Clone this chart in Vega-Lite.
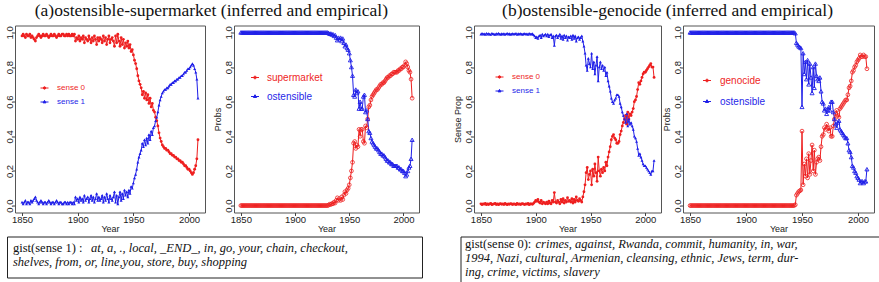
{
  "$schema": "https://vega.github.io/schema/vega-lite/v6.json",
  "background": "white",
  "padding": {"left": 3, "top": 1.5, "right": -12, "bottom": -10.5},
  "spacing": 2,
  "resolve": {"scale": {"color": "independent", "x": "independent", "y": "independent"}, "legend": {"color": "independent"}},
  "config": {
    "view": {"stroke": "#555", "strokeWidth": 1},
    "font": "Liberation Sans",
    "axis": {"labelFont": "Liberation Sans", "titleFont": "Liberation Sans", "labelFontSize": 9.5, "titleFontSize": 9, "titleFontWeight": "normal", "labelColor": "#222", "titleColor": "#222", "tickColor": "#444", "tickSize": 3, "grid": false, "domain": false, "labelPadding": -1, "titlePadding": 0},
    "axisY": {"labelAngle": 270, "labelBaseline": "alphabetic", "labelAlign": "center", "labelPadding": 0, "titlePadding": 1},
    "title": {"font": "Liberation Serif", "fontSize": 17.5, "fontWeight": "normal", "color": "#111", "baseline": "alphabetic"},
    "legend": {"padding": 0}
  },
  "datasets": {
    "a1": [{"t":1850,"r":0.98,"b":0.02},{"t":1851,"r":0.99,"b":0.01},{"t":1852,"r":0.98,"b":0.02},{"t":1853,"r":0.97,"b":0.03},{"t":1854,"r":0.99,"b":0.01},{"t":1855,"r":0.98,"b":0.02},{"t":1856,"r":0.98,"b":0.02},{"t":1857,"r":0.99,"b":0.01},{"t":1858,"r":0.97,"b":0.03},{"t":1859,"r":0.98,"b":0.02},
      {"t":1860,"r":0.97,"b":0.03},{"t":1861,"r":0.96,"b":0.04},{"t":1862,"r":0.95,"b":0.05},{"t":1863,"r":0.97,"b":0.03},{"t":1864,"r":0.98,"b":0.02},{"t":1865,"r":0.99,"b":0.01},{"t":1866,"r":0.98,"b":0.02},{"t":1867,"r":0.97,"b":0.03},{"t":1868,"r":0.98,"b":0.02},{"t":1869,"r":0.99,"b":0.01},
      {"t":1870,"r":0.98,"b":0.02},{"t":1871,"r":0.98,"b":0.02},{"t":1872,"r":0.99,"b":0.01},{"t":1873,"r":0.98,"b":0.02},{"t":1874,"r":0.97,"b":0.03},{"t":1875,"r":0.98,"b":0.02},{"t":1876,"r":0.99,"b":0.01},{"t":1877,"r":0.98,"b":0.02},{"t":1878,"r":0.98,"b":0.02},{"t":1879,"r":0.99,"b":0.01},
      {"t":1880,"r":0.98,"b":0.02},{"t":1881,"r":0.97,"b":0.03},{"t":1882,"r":0.98,"b":0.02},{"t":1883,"r":0.99,"b":0.01},{"t":1884,"r":0.98,"b":0.02},{"t":1885,"r":0.98,"b":0.02},{"t":1886,"r":0.99,"b":0.01},{"t":1887,"r":0.99,"b":0.01},{"t":1888,"r":0.98,"b":0.02},{"t":1889,"r":0.98,"b":0.02},
      {"t":1890,"r":0.99,"b":0.01},{"t":1891,"r":0.98,"b":0.02},{"t":1892,"r":0.99,"b":0.01},{"t":1893,"r":0.98,"b":0.02},{"t":1894,"r":0.98,"b":0.02},{"t":1895,"r":0.99,"b":0.01},{"t":1896,"r":0.98,"b":0.02},{"t":1897,"r":0.99,"b":0.01},{"t":1898,"r":0.95,"b":0.05},{"t":1899,"r":0.97,"b":0.03},
      {"t":1900,"r":0.96,"b":0.04},{"t":1901,"r":0.98,"b":0.02},{"t":1902,"r":0.95,"b":0.05},{"t":1903,"r":0.97,"b":0.03},{"t":1904,"r":0.96,"b":0.04},{"t":1905,"r":0.98,"b":0.02},{"t":1906,"r":0.94,"b":0.06},{"t":1907,"r":0.97,"b":0.03},{"t":1908,"r":0.96,"b":0.04},{"t":1909,"r":0.95,"b":0.05},
      {"t":1910,"r":0.98,"b":0.02},{"t":1911,"r":0.96,"b":0.04},{"t":1912,"r":0.94,"b":0.06},{"t":1913,"r":0.97,"b":0.03},{"t":1914,"r":0.95,"b":0.05},{"t":1915,"r":0.98,"b":0.02},{"t":1916,"r":0.96,"b":0.04},{"t":1917,"r":0.93,"b":0.07},{"t":1918,"r":0.97,"b":0.03},{"t":1919,"r":0.95,"b":0.05},
      {"t":1920,"r":0.97,"b":0.03},{"t":1921,"r":0.96,"b":0.04},{"t":1922,"r":0.94,"b":0.06},{"t":1923,"r":0.98,"b":0.02},{"t":1924,"r":0.95,"b":0.05},{"t":1925,"r":0.97,"b":0.03},{"t":1926,"r":0.93,"b":0.07},{"t":1927,"r":0.96,"b":0.04},{"t":1928,"r":0.98,"b":0.02},{"t":1929,"r":0.94,"b":0.06},
      {"t":1930,"r":0.96,"b":0.04},{"t":1931,"r":0.97,"b":0.03},{"t":1932,"r":0.95,"b":0.05},{"t":1933,"r":0.92,"b":0.08},{"t":1934,"r":0.98,"b":0.02},{"t":1935,"r":0.94,"b":0.06},{"t":1936,"r":0.99,"b":0.01},{"t":1937,"r":0.95,"b":0.05},{"t":1938,"r":0.92,"b":0.08},{"t":1939,"r":0.97,"b":0.03},
      {"t":1940,"r":0.93,"b":0.07},{"t":1941,"r":0.96,"b":0.04},{"t":1942,"r":0.91,"b":0.09},{"t":1943,"r":0.94,"b":0.06},{"t":1944,"r":0.92,"b":0.08},{"t":1945,"r":0.95,"b":0.05},{"t":1946,"r":0.91,"b":0.09},{"t":1947,"r":0.93,"b":0.07},{"t":1948,"r":0.89,"b":0.11},{"t":1949,"r":0.9,"b":0.1},
      {"t":1950,"r":0.87,"b":0.13},{"t":1951,"r":0.84,"b":0.16},{"t":1952,"r":0.82,"b":0.18},{"t":1953,"r":0.79,"b":0.21},{"t":1954,"r":0.75,"b":0.25},{"t":1955,"r":0.72,"b":0.28},{"t":1956,"r":0.7,"b":0.3},{"t":1957,"r":0.68,"b":0.32},{"t":1958,"r":0.64,"b":0.36},{"t":1959,"r":0.66,"b":0.34},
      {"t":1960,"r":0.62,"b":0.38},{"t":1961,"r":0.65,"b":0.35},{"t":1962,"r":0.61,"b":0.39},{"t":1963,"r":0.64,"b":0.36},{"t":1964,"r":0.59,"b":0.41},{"t":1965,"r":0.62,"b":0.38},{"t":1966,"r":0.57,"b":0.43},{"t":1967,"r":0.59,"b":0.41},{"t":1968,"r":0.55,"b":0.45},{"t":1969,"r":0.54,"b":0.46},
      {"t":1970,"r":0.51,"b":0.49},{"t":1971,"r":0.49,"b":0.51},{"t":1972,"r":0.46,"b":0.54},{"t":1973,"r":0.42,"b":0.58},{"t":1974,"r":0.39,"b":0.61},{"t":1975,"r":0.37,"b":0.63},{"t":1976,"r":0.35,"b":0.65},{"t":1977,"r":0.34,"b":0.66},{"t":1978,"r":0.33,"b":0.67},{"t":1979,"r":0.33,"b":0.67},
      {"t":1980,"r":0.32,"b":0.68},{"t":1981,"r":0.32,"b":0.68},{"t":1982,"r":0.31,"b":0.69},{"t":1983,"r":0.3,"b":0.7},{"t":1984,"r":0.3,"b":0.7},{"t":1985,"r":0.29,"b":0.71},{"t":1986,"r":0.29,"b":0.71},{"t":1987,"r":0.28,"b":0.72},{"t":1988,"r":0.28,"b":0.72},{"t":1989,"r":0.27,"b":0.73},
      {"t":1990,"r":0.27,"b":0.73},{"t":1991,"r":0.26,"b":0.74},{"t":1992,"r":0.26,"b":0.74},{"t":1993,"r":0.25,"b":0.75},{"t":1994,"r":0.25,"b":0.75},{"t":1995,"r":0.24,"b":0.76},{"t":1996,"r":0.23,"b":0.77},{"t":1997,"r":0.23,"b":0.77},{"t":1998,"r":0.22,"b":0.78},{"t":1999,"r":0.21,"b":0.79},
      {"t":2000,"r":0.21,"b":0.79},{"t":2001,"r":0.2,"b":0.8},{"t":2002,"r":0.19,"b":0.81},{"t":2003,"r":0.18,"b":0.82},{"t":2004,"r":0.19,"b":0.81},{"t":2005,"r":0.21,"b":0.79},{"t":2006,"r":0.23,"b":0.77},{"t":2007,"r":0.27,"b":0.73},{"t":2008,"r":0.38,"b":0.62}],
    "a2": [{"t":1850,"r":0,"b":1},{"t":1851,"r":0,"b":1},{"t":1852,"r":0,"b":1},{"t":1853,"r":0,"b":1},{"t":1854,"r":0,"b":1},{"t":1855,"r":0,"b":1},{"t":1856,"r":0,"b":1},{"t":1857,"r":0,"b":1},{"t":1858,"r":0,"b":1},{"t":1859,"r":0,"b":1},
      {"t":1860,"r":0,"b":1},{"t":1861,"r":0,"b":1},{"t":1862,"r":0,"b":1},{"t":1863,"r":0,"b":1},{"t":1864,"r":0,"b":1},{"t":1865,"r":0,"b":1},{"t":1866,"r":0,"b":1},{"t":1867,"r":0,"b":1},{"t":1868,"r":0,"b":1},{"t":1869,"r":0,"b":1},
      {"t":1870,"r":0,"b":1},{"t":1871,"r":0,"b":1},{"t":1872,"r":0,"b":1},{"t":1873,"r":0,"b":1},{"t":1874,"r":0,"b":1},{"t":1875,"r":0,"b":1},{"t":1876,"r":0,"b":1},{"t":1877,"r":0,"b":1},{"t":1878,"r":0,"b":1},{"t":1879,"r":0,"b":1},
      {"t":1880,"r":0,"b":1},{"t":1881,"r":0,"b":1},{"t":1882,"r":0,"b":1},{"t":1883,"r":0,"b":1},{"t":1884,"r":0,"b":1},{"t":1885,"r":0,"b":1},{"t":1886,"r":0,"b":1},{"t":1887,"r":0,"b":1},{"t":1888,"r":0,"b":1},{"t":1889,"r":0,"b":1},
      {"t":1890,"r":0,"b":1},{"t":1891,"r":0,"b":1},{"t":1892,"r":0,"b":1},{"t":1893,"r":0,"b":1},{"t":1894,"r":0,"b":1},{"t":1895,"r":0,"b":1},{"t":1896,"r":0,"b":1},{"t":1897,"r":0,"b":1},{"t":1898,"r":0,"b":1},{"t":1899,"r":0,"b":1},
      {"t":1900,"r":0,"b":1},{"t":1901,"r":0,"b":1},{"t":1902,"r":0,"b":1},{"t":1903,"r":0,"b":1},{"t":1904,"r":0,"b":1},{"t":1905,"r":0,"b":1},{"t":1906,"r":0,"b":1},{"t":1907,"r":0,"b":1},{"t":1908,"r":0,"b":1},{"t":1909,"r":0,"b":1},
      {"t":1910,"r":0,"b":1},{"t":1911,"r":0,"b":1},{"t":1912,"r":0,"b":1},{"t":1913,"r":0,"b":1},{"t":1914,"r":0,"b":1},{"t":1915,"r":0,"b":1},{"t":1916,"r":0,"b":1},{"t":1917,"r":0,"b":1},{"t":1918,"r":0,"b":1},{"t":1919,"r":0,"b":1},
      {"t":1920,"r":0,"b":1},{"t":1921,"r":0,"b":1},{"t":1922,"r":0,"b":1},{"t":1923,"r":0,"b":1},{"t":1924,"r":0,"b":1},{"t":1925,"r":0,"b":1},{"t":1926,"r":0,"b":1},{"t":1927,"r":0,"b":1},{"t":1928,"r":0,"b":1},{"t":1929,"r":0,"b":1},
      {"t":1930,"r":0,"b":1},{"t":1931,"r":0.003,"b":0.997},{"t":1932,"r":0.008,"b":0.992},{"t":1933,"r":0.006,"b":0.994},{"t":1934,"r":0.012,"b":0.988},{"t":1935,"r":0.01,"b":0.99},{"t":1936,"r":0.02,"b":0.98},{"t":1937,"r":0.015,"b":0.985},{"t":1938,"r":0.03,"b":0.97},{"t":1939,"r":0.045,"b":0.955},
      {"t":1940,"r":0.03,"b":0.97},{"t":1941,"r":0.04,"b":0.96},{"t":1942,"r":0.03,"b":0.97},{"t":1943,"r":0.05,"b":0.95},{"t":1944,"r":0.035,"b":0.965},{"t":1945,"r":0.06,"b":0.94},{"t":1946,"r":0.08,"b":0.92},{"t":1947,"r":0.07,"b":0.93},{"t":1948,"r":0.09,"b":0.91},{"t":1949,"r":0.1,"b":0.9},
      {"t":1950,"r":0.12,"b":0.88},{"t":1951,"r":0.16,"b":0.84},{"t":1952,"r":0.2,"b":0.8},{"t":1953,"r":0.25,"b":0.75},{"t":1954,"r":0.36,"b":0.64},{"t":1955,"r":0.37,"b":0.63},{"t":1956,"r":0.33,"b":0.67},{"t":1957,"r":0.35,"b":0.65},{"t":1958,"r":0.34,"b":0.66},{"t":1959,"r":0.44,"b":0.56},
      {"t":1960,"r":0.4,"b":0.6},{"t":1961,"r":0.44,"b":0.56},{"t":1962,"r":0.44,"b":0.56},{"t":1963,"r":0.37,"b":0.63},{"t":1964,"r":0.36,"b":0.64},{"t":1965,"r":0.46,"b":0.54},{"t":1966,"r":0.45,"b":0.55},{"t":1967,"r":0.5,"b":0.5},{"t":1968,"r":0.57,"b":0.43},{"t":1969,"r":0.58,"b":0.42},
      {"t":1970,"r":0.61,"b":0.39},{"t":1971,"r":0.63,"b":0.37},{"t":1972,"r":0.64,"b":0.36},{"t":1973,"r":0.65,"b":0.35},{"t":1974,"r":0.66,"b":0.34},{"t":1975,"r":0.67,"b":0.33},{"t":1976,"r":0.67,"b":0.33},{"t":1977,"r":0.68,"b":0.32},{"t":1978,"r":0.69,"b":0.31},{"t":1979,"r":0.7,"b":0.3},
      {"t":1980,"r":0.7,"b":0.3},{"t":1981,"r":0.71,"b":0.29},{"t":1982,"r":0.71,"b":0.29},{"t":1983,"r":0.72,"b":0.28},{"t":1984,"r":0.73,"b":0.27},{"t":1985,"r":0.74,"b":0.26},{"t":1986,"r":0.74,"b":0.26},{"t":1987,"r":0.75,"b":0.25},{"t":1988,"r":0.75,"b":0.25},{"t":1989,"r":0.76,"b":0.24},
      {"t":1990,"r":0.76,"b":0.24},{"t":1991,"r":0.77,"b":0.23},{"t":1992,"r":0.77,"b":0.23},{"t":1993,"r":0.77,"b":0.23},{"t":1994,"r":0.77,"b":0.23},{"t":1995,"r":0.78,"b":0.22},{"t":1996,"r":0.78,"b":0.22},{"t":1997,"r":0.79,"b":0.21},{"t":1998,"r":0.79,"b":0.21},{"t":1999,"r":0.8,"b":0.2},
      {"t":2000,"r":0.8,"b":0.2},{"t":2001,"r":0.81,"b":0.19},{"t":2002,"r":0.83,"b":0.17},{"t":2003,"r":0.82,"b":0.18},{"t":2004,"r":0.8,"b":0.2},{"t":2005,"r":0.78,"b":0.22},{"t":2006,"r":0.77,"b":0.23},{"t":2007,"r":0.73,"b":0.27},{"t":2008,"r":0.62,"b":0.38}],
    "b1": [{"t":1850,"r":0.01,"b":0.99},{"t":1851,"r":0.005,"b":0.995},{"t":1852,"r":0.01,"b":0.99},{"t":1853,"r":0.008,"b":0.992},{"t":1854,"r":0.012,"b":0.988},{"t":1855,"r":0.005,"b":0.995},{"t":1856,"r":0.01,"b":0.99},{"t":1857,"r":0.006,"b":0.994},{"t":1858,"r":0.01,"b":0.99},{"t":1859,"r":0.012,"b":0.988},
      {"t":1860,"r":0.005,"b":0.995},{"t":1861,"r":0.008,"b":0.992},{"t":1862,"r":0.01,"b":0.99},{"t":1863,"r":0.012,"b":0.988},{"t":1864,"r":0.006,"b":0.994},{"t":1865,"r":0.01,"b":0.99},{"t":1866,"r":0.005,"b":0.995},{"t":1867,"r":0.009,"b":0.991},{"t":1868,"r":0.011,"b":0.989},{"t":1869,"r":0.007,"b":0.993},
      {"t":1870,"r":0.01,"b":0.99},{"t":1871,"r":0.006,"b":0.994},{"t":1872,"r":0.012,"b":0.988},{"t":1873,"r":0.008,"b":0.992},{"t":1874,"r":0.005,"b":0.995},{"t":1875,"r":0.01,"b":0.99},{"t":1876,"r":0.007,"b":0.993},{"t":1877,"r":0.011,"b":0.989},{"t":1878,"r":0.009,"b":0.991},{"t":1879,"r":0.006,"b":0.994},
      {"t":1880,"r":0.01,"b":0.99},{"t":1881,"r":0.008,"b":0.992},{"t":1882,"r":0.005,"b":0.995},{"t":1883,"r":0.012,"b":0.988},{"t":1884,"r":0.007,"b":0.993},{"t":1885,"r":0.01,"b":0.99},{"t":1886,"r":0.006,"b":0.994},{"t":1887,"r":0.009,"b":0.991},{"t":1888,"r":0.011,"b":0.989},{"t":1889,"r":0.008,"b":0.992},
      {"t":1890,"r":0.006,"b":0.994},{"t":1891,"r":0.01,"b":0.99},{"t":1892,"r":0.008,"b":0.992},{"t":1893,"r":0.012,"b":0.988},{"t":1894,"r":0.005,"b":0.995},{"t":1895,"r":0.009,"b":0.991},{"t":1896,"r":0.01,"b":0.99},{"t":1897,"r":0.007,"b":0.993},{"t":1898,"r":0.013,"b":0.987},{"t":1899,"r":0.02,"b":0.98},
      {"t":1900,"r":0.03,"b":0.97},{"t":1901,"r":0.025,"b":0.975},{"t":1902,"r":0.035,"b":0.965},{"t":1903,"r":0.02,"b":0.98},{"t":1904,"r":0.015,"b":0.985},{"t":1905,"r":0.03,"b":0.97},{"t":1906,"r":0.01,"b":0.99},{"t":1907,"r":0.02,"b":0.98},{"t":1908,"r":0.015,"b":0.985},{"t":1909,"r":0.01,"b":0.99},
      {"t":1910,"r":0.02,"b":0.98},{"t":1911,"r":0.01,"b":0.99},{"t":1912,"r":0.025,"b":0.975},{"t":1913,"r":0.015,"b":0.985},{"t":1914,"r":0.01,"b":0.99},{"t":1915,"r":0.03,"b":0.97},{"t":1916,"r":0.02,"b":0.98},{"t":1917,"r":0.075,"b":0.925},{"t":1918,"r":0.02,"b":0.98},{"t":1919,"r":0.015,"b":0.985},
      {"t":1920,"r":0.03,"b":0.97},{"t":1921,"r":0.02,"b":0.98},{"t":1922,"r":0.01,"b":0.99},{"t":1923,"r":0.035,"b":0.965},{"t":1924,"r":0.02,"b":0.98},{"t":1925,"r":0.04,"b":0.96},{"t":1926,"r":0.015,"b":0.985},{"t":1927,"r":0.03,"b":0.97},{"t":1928,"r":0.02,"b":0.98},{"t":1929,"r":0.045,"b":0.955},
      {"t":1930,"r":0.025,"b":0.975},{"t":1931,"r":0.03,"b":0.97},{"t":1932,"r":0.02,"b":0.98},{"t":1933,"r":0.04,"b":0.96},{"t":1934,"r":0.015,"b":0.985},{"t":1935,"r":0.035,"b":0.965},{"t":1936,"r":0.02,"b":0.98},{"t":1937,"r":0.05,"b":0.95},{"t":1938,"r":0.03,"b":0.97},{"t":1939,"r":0.025,"b":0.975},
      {"t":1940,"r":0.04,"b":0.96},{"t":1941,"r":0.03,"b":0.97},{"t":1942,"r":0.02,"b":0.98},{"t":1943,"r":0.05,"b":0.95},{"t":1944,"r":0.08,"b":0.92},{"t":1945,"r":0.12,"b":0.88},{"t":1946,"r":0.19,"b":0.81},{"t":1947,"r":0.22,"b":0.78},{"t":1948,"r":0.15,"b":0.85},{"t":1949,"r":0.18,"b":0.82},
      {"t":1950,"r":0.2,"b":0.8},{"t":1951,"r":0.12,"b":0.88},{"t":1952,"r":0.21,"b":0.79},{"t":1953,"r":0.17,"b":0.83},{"t":1954,"r":0.24,"b":0.76},{"t":1955,"r":0.19,"b":0.81},{"t":1956,"r":0.14,"b":0.86},{"t":1957,"r":0.28,"b":0.72},{"t":1958,"r":0.2,"b":0.8},{"t":1959,"r":0.17,"b":0.83},
      {"t":1960,"r":0.21,"b":0.79},{"t":1961,"r":0.19,"b":0.81},{"t":1962,"r":0.22,"b":0.78},{"t":1963,"r":0.2,"b":0.8},{"t":1964,"r":0.25,"b":0.75},{"t":1965,"r":0.23,"b":0.77},{"t":1966,"r":0.28,"b":0.72},{"t":1967,"r":0.31,"b":0.69},{"t":1968,"r":0.34,"b":0.66},{"t":1969,"r":0.38,"b":0.62},
      {"t":1970,"r":0.4,"b":0.6},{"t":1971,"r":0.41,"b":0.59},{"t":1972,"r":0.39,"b":0.61},{"t":1973,"r":0.38,"b":0.62},{"t":1974,"r":0.36,"b":0.64},{"t":1975,"r":0.36,"b":0.64},{"t":1976,"r":0.37,"b":0.63},{"t":1977,"r":0.41,"b":0.59},{"t":1978,"r":0.43,"b":0.57},{"t":1979,"r":0.46,"b":0.54},
      {"t":1980,"r":0.48,"b":0.52},{"t":1981,"r":0.5,"b":0.5},{"t":1982,"r":0.52,"b":0.48},{"t":1983,"r":0.47,"b":0.53},{"t":1984,"r":0.54,"b":0.46},{"t":1985,"r":0.5,"b":0.5},{"t":1986,"r":0.53,"b":0.47},{"t":1987,"r":0.52,"b":0.48},{"t":1988,"r":0.54,"b":0.46},{"t":1989,"r":0.56,"b":0.44},
      {"t":1990,"r":0.6,"b":0.4},{"t":1991,"r":0.61,"b":0.39},{"t":1992,"r":0.63,"b":0.37},{"t":1993,"r":0.67,"b":0.33},{"t":1994,"r":0.71,"b":0.29},{"t":1995,"r":0.7,"b":0.3},{"t":1996,"r":0.72,"b":0.28},{"t":1997,"r":0.74,"b":0.26},{"t":1998,"r":0.76,"b":0.24},{"t":1999,"r":0.77,"b":0.23},
      {"t":2000,"r":0.77,"b":0.23},{"t":2001,"r":0.78,"b":0.22},{"t":2002,"r":0.79,"b":0.21},{"t":2003,"r":0.8,"b":0.2},{"t":2004,"r":0.81,"b":0.19},{"t":2005,"r":0.82,"b":0.18},{"t":2006,"r":0.8,"b":0.2},{"t":2007,"r":0.8,"b":0.2},{"t":2008,"r":0.74,"b":0.26}],
    "b2": [{"t":1850,"r":0,"b":1},{"t":1851,"r":0,"b":1},{"t":1852,"r":0,"b":1},{"t":1853,"r":0,"b":1},{"t":1854,"r":0,"b":1},{"t":1855,"r":0,"b":1},{"t":1856,"r":0,"b":1},{"t":1857,"r":0,"b":1},{"t":1858,"r":0,"b":1},{"t":1859,"r":0,"b":1},
      {"t":1860,"r":0,"b":1},{"t":1861,"r":0,"b":1},{"t":1862,"r":0,"b":1},{"t":1863,"r":0,"b":1},{"t":1864,"r":0,"b":1},{"t":1865,"r":0,"b":1},{"t":1866,"r":0,"b":1},{"t":1867,"r":0,"b":1},{"t":1868,"r":0,"b":1},{"t":1869,"r":0,"b":1},
      {"t":1870,"r":0,"b":1},{"t":1871,"r":0,"b":1},{"t":1872,"r":0,"b":1},{"t":1873,"r":0,"b":1},{"t":1874,"r":0,"b":1},{"t":1875,"r":0,"b":1},{"t":1876,"r":0,"b":1},{"t":1877,"r":0,"b":1},{"t":1878,"r":0,"b":1},{"t":1879,"r":0,"b":1},
      {"t":1880,"r":0,"b":1},{"t":1881,"r":0,"b":1},{"t":1882,"r":0,"b":1},{"t":1883,"r":0,"b":1},{"t":1884,"r":0,"b":1},{"t":1885,"r":0,"b":1},{"t":1886,"r":0,"b":1},{"t":1887,"r":0,"b":1},{"t":1888,"r":0,"b":1},{"t":1889,"r":0,"b":1},
      {"t":1890,"r":0,"b":1},{"t":1891,"r":0,"b":1},{"t":1892,"r":0,"b":1},{"t":1893,"r":0,"b":1},{"t":1894,"r":0,"b":1},{"t":1895,"r":0,"b":1},{"t":1896,"r":0,"b":1},{"t":1897,"r":0,"b":1},{"t":1898,"r":0,"b":1},{"t":1899,"r":0,"b":1},
      {"t":1900,"r":0,"b":1},{"t":1901,"r":0,"b":1},{"t":1902,"r":0,"b":1},{"t":1903,"r":0,"b":1},{"t":1904,"r":0,"b":1},{"t":1905,"r":0,"b":1},{"t":1906,"r":0,"b":1},{"t":1907,"r":0,"b":1},{"t":1908,"r":0,"b":1},{"t":1909,"r":0,"b":1},
      {"t":1910,"r":0,"b":1},{"t":1911,"r":0,"b":1},{"t":1912,"r":0,"b":1},{"t":1913,"r":0,"b":1},{"t":1914,"r":0,"b":1},{"t":1915,"r":0,"b":1},{"t":1916,"r":0,"b":1},{"t":1917,"r":0,"b":1},{"t":1918,"r":0,"b":1},{"t":1919,"r":0,"b":1},
      {"t":1920,"r":0,"b":1},{"t":1921,"r":0,"b":1},{"t":1922,"r":0,"b":1},{"t":1923,"r":0,"b":1},{"t":1924,"r":0,"b":1},{"t":1925,"r":0,"b":1},{"t":1926,"r":0,"b":1},{"t":1927,"r":0,"b":1},{"t":1928,"r":0,"b":1},{"t":1929,"r":0,"b":1},
      {"t":1930,"r":0,"b":1},{"t":1931,"r":0,"b":1},{"t":1932,"r":0,"b":1},{"t":1933,"r":0,"b":1},{"t":1934,"r":0,"b":1},{"t":1935,"r":0,"b":1},{"t":1936,"r":0,"b":1},{"t":1937,"r":0,"b":1},{"t":1938,"r":0,"b":1},{"t":1939,"r":0,"b":1},
      {"t":1940,"r":0,"b":1},{"t":1941,"r":0,"b":1},{"t":1942,"r":0,"b":1},{"t":1943,"r":0,"b":1},{"t":1944,"r":0.005,"b":0.995},{"t":1945,"r":0.06,"b":0.94},{"t":1946,"r":0.07,"b":0.93},{"t":1947,"r":0.08,"b":0.92},{"t":1948,"r":0.085,"b":0.915},{"t":1949,"r":0.09,"b":0.91},
      {"t":1950,"r":0.43,"b":0.57},{"t":1951,"r":0.12,"b":0.88},{"t":1952,"r":0.24,"b":0.76},{"t":1953,"r":0.17,"b":0.83},{"t":1954,"r":0.27,"b":0.73},{"t":1955,"r":0.16,"b":0.84},{"t":1956,"r":0.3,"b":0.7},{"t":1957,"r":0.18,"b":0.82},{"t":1958,"r":0.26,"b":0.74},{"t":1959,"r":0.35,"b":0.65},
      {"t":1960,"r":0.2,"b":0.8},{"t":1961,"r":0.32,"b":0.68},{"t":1962,"r":0.18,"b":0.82},{"t":1963,"r":0.25,"b":0.75},{"t":1964,"r":0.27,"b":0.73},{"t":1965,"r":0.28,"b":0.72},{"t":1966,"r":0.26,"b":0.74},{"t":1967,"r":0.34,"b":0.66},{"t":1968,"r":0.4,"b":0.6},{"t":1969,"r":0.41,"b":0.59},
      {"t":1970,"r":0.45,"b":0.55},{"t":1971,"r":0.44,"b":0.56},{"t":1972,"r":0.47,"b":0.53},{"t":1973,"r":0.45,"b":0.55},{"t":1974,"r":0.43,"b":0.57},{"t":1975,"r":0.45,"b":0.55},{"t":1976,"r":0.4,"b":0.6},{"t":1977,"r":0.4,"b":0.6},{"t":1978,"r":0.46,"b":0.54},{"t":1979,"r":0.5,"b":0.5},
      {"t":1980,"r":0.53,"b":0.47},{"t":1981,"r":0.55,"b":0.45},{"t":1982,"r":0.52,"b":0.48},{"t":1983,"r":0.51,"b":0.49},{"t":1984,"r":0.56,"b":0.44},{"t":1985,"r":0.57,"b":0.43},{"t":1986,"r":0.58,"b":0.42},{"t":1987,"r":0.59,"b":0.41},{"t":1988,"r":0.6,"b":0.4},{"t":1989,"r":0.61,"b":0.39},
      {"t":1990,"r":0.61,"b":0.39},{"t":1991,"r":0.64,"b":0.36},{"t":1992,"r":0.68,"b":0.32},{"t":1993,"r":0.69,"b":0.31},{"t":1994,"r":0.72,"b":0.28},{"t":1995,"r":0.77,"b":0.23},{"t":1996,"r":0.78,"b":0.22},{"t":1997,"r":0.8,"b":0.2},{"t":1998,"r":0.81,"b":0.19},{"t":1999,"r":0.83,"b":0.17},
      {"t":2000,"r":0.84,"b":0.16},{"t":2001,"r":0.85,"b":0.15},{"t":2002,"r":0.87,"b":0.13},{"t":2003,"r":0.86,"b":0.14},{"t":2004,"r":0.86,"b":0.14},{"t":2005,"r":0.87,"b":0.13},{"t":2006,"r":0.86,"b":0.14},{"t":2007,"r":0.86,"b":0.14},{"t":2008,"r":0.79,"b":0.21}],
    "ga": [{"ln":1,"part":"head","txt":"gist(sense 1) :"},{"ln":1,"part":"lead","txt":"at, a, ., local, _END_, in, go, your, chain, checkout,"},{"ln":2,"part":"more","txt":"shelves, from, or, line,you, store, buy, shopping"}],
    "gb": [{"ln":1,"part":"head","txt":"gist(sense 0):"},{"ln":1,"part":"lead","txt":"crimes, against, Rwanda, commit, humanity, in, war,"},{"ln":2,"part":"more","txt":"1994, Nazi, cultural, Armenian, cleansing, ethnic, Jews, term, dur-"},{"ln":3,"part":"more","txt":"ing, crime, victims, slavery"}]
  },
  "vconcat": [
    {
      "spacing": -5,
      "resolve": {"scale": {"color": "independent", "x": "independent", "y": "independent"}, "legend": {"color": "independent"}},
      "hconcat": [
        {"width": 1, "height": 1, "view": {"stroke": null}, "data": {"values": []}, "mark": "point"},
        {
          "spacing": 32,
          "resolve": {"scale": {"color": "independent", "x": "independent", "y": "independent"}, "legend": {"color": "independent"}},
          "hconcat": [
            {
              "bounds": "flush",
              "spacing": 29,
              "resolve": {"scale": {"color": "independent", "x": "independent", "y": "independent"}, "legend": {"color": "independent"}},
              "hconcat": [
                {
                  "width": 190, "height": 187,
                  "data": {"name": "a1"},
                  "transform": [{"fold": ["r", "b"], "as": ["k", "v"]}],
                  "encoding": {
                    "x": {"field": "t", "type": "quantitative", "scale": {"domain": [1843.68, 2014.32], "nice": false, "zero": false}, "axis": {"values": [1850, 1900, 1950, 2000], "format": "d", "title": "Year"}},
                    "y": {"field": "v", "type": "quantitative", "scale": {"domain": [-0.04, 1.04], "nice": false, "zero": false}, "axis": {"values": [0, 0.2, 0.4, 0.6, 0.8, 1], "format": ".1f", "title": null}},
                    "color": {"field": "k", "type": "nominal", "scale": {"domain": ["r", "b"], "range": ["#ee1f1f", "#1f1fe8"]},
                      "legend": {"title": null, "orient": "none", "legendX": 25, "legendY": 58, "labelFontSize": 8, "labelOffset": 8, "rowPadding": 5, "symbolSize": 64, "symbolStrokeWidth": 1,
                        "labelExpr": "datum.value === 'r' ? 'sense 0' : 'sense 1'",
                        "encode": {
                          "symbols": {"update": {
                            "shape": {"signal": "datum.value === 'r' ? 'M-1,0H1M0.3,0A0.3,0.3,0,1,1,-0.3,0A0.3,0.3,0,1,1,0.3,0Z' : 'M-1,0H1M0,-0.4L0.36,0.22L-0.36,0.22Z'"},
                            "fill": {"signal": "datum.value === 'r' ? '#ee1f1f' : '#1f1fe8'"},
                            "stroke": {"signal": "datum.value === 'r' ? '#ee1f1f' : '#1f1fe8'"},
                            "opacity": {"value": 1}}},
                          "labels": {"update": {"fill": {"signal": "datum.value === 'r' ? '#ee1f1f' : '#1f1fe8'"}}}
                        }}}
                  },
                  "layer": [
                    {"mark": {"type": "line", "strokeWidth": 1}},
                    {"transform": [{"filter": "datum.k === 'r'"}], "mark": {"type": "point", "shape": "circle", "filled": true, "opacity": 1, "size": 8}},
                    {"transform": [{"filter": "datum.k === 'b'"}], "mark": {"type": "point", "shape": "triangle-up", "filled": true, "opacity": 1, "size": 9}}
                  ]
                },
                {
                  "width": 185, "height": 187,
                  "title": {"text": "(a)ostensible-supermarket (inferred and empirical)", "anchor": "end", "frame": "group", "dx": -31, "offset": 6},
                  "data": {"name": "a2"},
                  "transform": [{"fold": ["r", "b"], "as": ["k", "v"]}],
                  "encoding": {
                    "x": {"field": "t", "type": "quantitative", "scale": {"domain": [1843.68, 2014.32], "nice": false, "zero": false}, "axis": {"values": [1850, 1900, 1950, 2000], "format": "d", "title": "Year"}},
                    "y": {"field": "v", "type": "quantitative", "scale": {"domain": [-0.04, 1.04], "nice": false, "zero": false}, "axis": {"values": [0, 0.2, 0.4, 0.6, 0.8, 1], "format": ".1f", "title": "Probs"}},
                    "color": {"field": "k", "type": "nominal", "scale": {"domain": ["r", "b"], "range": ["#ee1f1f", "#1f1fe8"]},
                      "legend": {"title": null, "orient": "none", "legendX": 16, "legendY": 47, "labelFontSize": 10, "labelOffset": 7, "rowPadding": 9, "symbolSize": 64, "symbolStrokeWidth": 1,
                        "labelExpr": "datum.value === 'r' ? 'supermarket' : 'ostensible'",
                        "encode": {
                          "symbols": {"update": {
                            "shape": {"signal": "datum.value === 'r' ? 'M-1,0H1M0.35,0A0.35,0.35,0,1,1,-0.35,0A0.35,0.35,0,1,1,0.35,0Z' : 'M-1,0H1M0,-0.45L0.4,0.25L-0.4,0.25Z'"},
                            "fill": {"signal": "datum.value === 'r' ? '#ffffff' : '#1f1fe8'"},
                            "stroke": {"signal": "datum.value === 'r' ? '#ee1f1f' : '#1f1fe8'"},
                            "opacity": {"value": 1}}},
                          "labels": {"update": {"fill": {"signal": "datum.value === 'r' ? '#ee1f1f' : '#1f1fe8'"}}}
                        }}}
                  },
                  "layer": [
                    {"mark": {"type": "line", "strokeWidth": 1}},
                    {"transform": [{"filter": "datum.k === 'r'"}], "mark": {"type": "point", "shape": "circle", "filled": false, "opacity": 1, "size": 14, "strokeWidth": 0.8}},
                    {"transform": [{"filter": "datum.k === 'b'"}], "mark": {"type": "point", "shape": "triangle-up", "filled": false, "opacity": 1, "size": 16, "strokeWidth": 0.9}}
                  ]
                }
              ]
            },
            {
              "bounds": "flush",
              "spacing": 22,
              "resolve": {"scale": {"color": "independent", "x": "independent", "y": "independent"}, "legend": {"color": "independent"}},
              "hconcat": [
                {
                  "width": 187, "height": 187,
                  "data": {"name": "b1"},
                  "transform": [{"fold": ["r", "b"], "as": ["k", "v"]}],
                  "encoding": {
                    "x": {"field": "t", "type": "quantitative", "scale": {"domain": [1843.68, 2014.32], "nice": false, "zero": false}, "axis": {"values": [1850, 1900, 1950, 2000], "format": "d", "title": "Year"}},
                    "y": {"field": "v", "type": "quantitative", "scale": {"domain": [-0.04, 1.04], "nice": false, "zero": false}, "axis": {"values": [0, 0.2, 0.4, 0.6, 0.8, 1], "format": ".1f", "title": "Sense Prop"}},
                    "color": {"field": "k", "type": "nominal", "scale": {"domain": ["r", "b"], "range": ["#ee1f1f", "#1f1fe8"]},
                      "legend": {"title": null, "orient": "none", "legendX": 21, "legendY": 47, "labelFontSize": 8, "labelOffset": 8, "rowPadding": 5, "symbolSize": 64, "symbolStrokeWidth": 1,
                        "labelExpr": "datum.value === 'r' ? 'sense 0' : 'sense 1'",
                        "encode": {
                          "symbols": {"update": {
                            "shape": {"signal": "datum.value === 'r' ? 'M-1,0H1M0.3,0A0.3,0.3,0,1,1,-0.3,0A0.3,0.3,0,1,1,0.3,0Z' : 'M-1,0H1M0,-0.4L0.36,0.22L-0.36,0.22Z'"},
                            "fill": {"signal": "datum.value === 'r' ? '#ee1f1f' : '#1f1fe8'"},
                            "stroke": {"signal": "datum.value === 'r' ? '#ee1f1f' : '#1f1fe8'"},
                            "opacity": {"value": 1}}},
                          "labels": {"update": {"fill": {"signal": "datum.value === 'r' ? '#ee1f1f' : '#1f1fe8'"}}}
                        }}}
                  },
                  "layer": [
                    {"mark": {"type": "line", "strokeWidth": 1}},
                    {"transform": [{"filter": "datum.k === 'r'"}], "mark": {"type": "point", "shape": "circle", "filled": true, "opacity": 1, "size": 8}},
                    {"transform": [{"filter": "datum.k === 'b'"}], "mark": {"type": "point", "shape": "triangle-up", "filled": true, "opacity": 1, "size": 9}}
                  ]
                },
                {
                  "width": 191, "height": 187,
                  "title": {"text": "(b)ostensible-genocide (inferred and empirical)", "anchor": "end", "frame": "group", "dx": -41, "offset": 6},
                  "data": {"name": "b2"},
                  "transform": [{"fold": ["r", "b"], "as": ["k", "v"]}],
                  "encoding": {
                    "x": {"field": "t", "type": "quantitative", "scale": {"domain": [1843.68, 2014.32], "nice": false, "zero": false}, "axis": {"values": [1850, 1900, 1950, 2000], "format": "d", "title": "Year"}},
                    "y": {"field": "v", "type": "quantitative", "scale": {"domain": [-0.04, 1.04], "nice": false, "zero": false}, "axis": {"values": [0, 0.2, 0.4, 0.6, 0.8, 1], "format": ".1f", "title": "Probs"}},
                    "color": {"field": "k", "type": "nominal", "scale": {"domain": ["r", "b"], "range": ["#ee1f1f", "#1f1fe8"]},
                      "legend": {"title": null, "orient": "none", "legendX": 19, "legendY": 50, "labelFontSize": 10, "labelOffset": 8, "rowPadding": 11, "symbolSize": 64, "symbolStrokeWidth": 1,
                        "labelExpr": "datum.value === 'r' ? 'genocide' : 'ostensible'",
                        "encode": {
                          "symbols": {"update": {
                            "shape": {"signal": "datum.value === 'r' ? 'M-1,0H1M0.35,0A0.35,0.35,0,1,1,-0.35,0A0.35,0.35,0,1,1,0.35,0Z' : 'M-1,0H1M0,-0.45L0.4,0.25L-0.4,0.25Z'"},
                            "fill": {"signal": "datum.value === 'r' ? '#ffffff' : '#1f1fe8'"},
                            "stroke": {"signal": "datum.value === 'r' ? '#ee1f1f' : '#1f1fe8'"},
                            "opacity": {"value": 1}}},
                          "labels": {"update": {"fill": {"signal": "datum.value === 'r' ? '#ee1f1f' : '#1f1fe8'"}}}
                        }}}
                  },
                  "layer": [
                    {"mark": {"type": "line", "strokeWidth": 1}},
                    {"transform": [{"filter": "datum.k === 'r'"}], "mark": {"type": "point", "shape": "circle", "filled": false, "opacity": 1, "size": 14, "strokeWidth": 0.8}},
                    {"transform": [{"filter": "datum.k === 'b'"}], "mark": {"type": "point", "shape": "triangle-up", "filled": false, "opacity": 1, "size": 16, "strokeWidth": 0.9}}
                  ]
                }
              ]
            }
          ]
        }
      ]
    },
    {
      "spacing": 36.5,
      "hconcat": [
        {
          "width": 415, "height": 41,
          "view": {"stroke": "#222", "strokeWidth": 1},
          "data": {"name": "ga"},
          "encoding": {
            "y": {"field": "ln", "type": "quantitative", "scale": {"domain": [-0.143, 2.786], "reverse": true, "nice": false, "zero": false}, "axis": null},
            "text": {"field": "txt"}
          },
          "layer": [
            {"transform": [{"filter": "datum.part === 'head'"}], "mark": {"type": "text", "align": "left", "baseline": "alphabetic", "font": "Liberation Serif", "fontSize": 12.5, "color": "#111", "dx": 6}, "encoding": {"x": {"value": 0}}},
            {"transform": [{"filter": "datum.part === 'lead'"}], "mark": {"type": "text", "align": "left", "baseline": "alphabetic", "font": "Liberation Serif", "fontSize": 12.5, "fontStyle": "italic", "color": "#111", "dx": 84}, "encoding": {"x": {"value": 0}}},
            {"transform": [{"filter": "datum.part === 'more'"}], "mark": {"type": "text", "align": "left", "baseline": "alphabetic", "font": "Liberation Serif", "fontSize": 12.5, "fontStyle": "italic", "color": "#111", "dx": 6}, "encoding": {"x": {"value": 0}}}
          ]
        },
        {
          "width": 430, "height": 60,
          "view": {"stroke": "#222", "strokeWidth": 1},
          "data": {"name": "gb"},
          "encoding": {
            "y": {"field": "ln", "type": "quantitative", "scale": {"domain": [0.214, 4.5], "reverse": true, "nice": false, "zero": false}, "axis": null},
            "text": {"field": "txt"}
          },
          "layer": [
            {"transform": [{"filter": "datum.part === 'head'"}], "mark": {"type": "text", "align": "left", "baseline": "alphabetic", "font": "Liberation Serif", "fontSize": 12.5, "color": "#111", "dx": 4.5}, "encoding": {"x": {"value": 0}}},
            {"transform": [{"filter": "datum.part === 'lead'"}], "mark": {"type": "text", "align": "left", "baseline": "alphabetic", "font": "Liberation Serif", "fontSize": 12.5, "fontStyle": "italic", "color": "#111", "dx": 75}, "encoding": {"x": {"value": 0}}},
            {"transform": [{"filter": "datum.part === 'more'"}], "mark": {"type": "text", "align": "left", "baseline": "alphabetic", "font": "Liberation Serif", "fontSize": 12.5, "fontStyle": "italic", "color": "#111", "dx": 4.5}, "encoding": {"x": {"value": 0}}}
          ]
        }
      ]
    }
  ]
}
